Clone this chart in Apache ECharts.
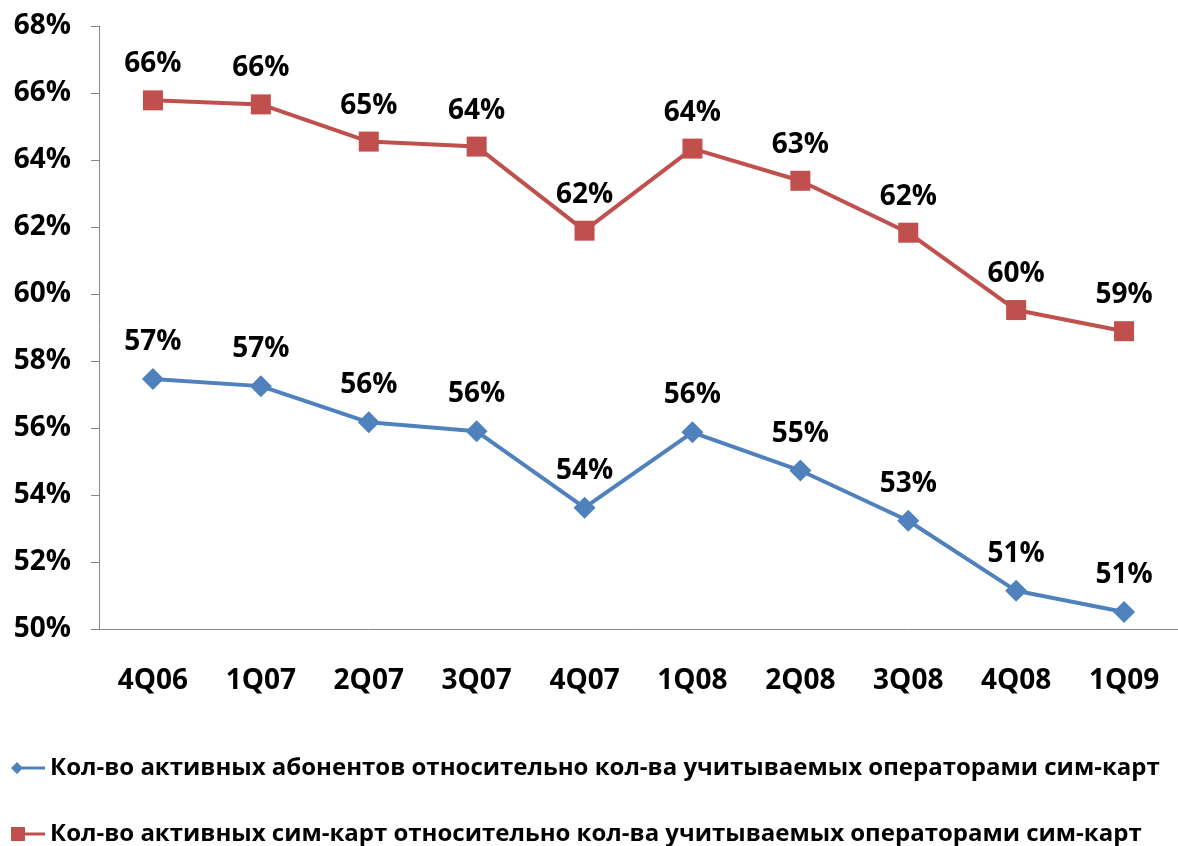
<!DOCTYPE html>
<html>
<head>
<meta charset="utf-8">
<script src="https://cdn.jsdelivr.net/npm/echarts@6/dist/echarts.min.js"></script>
<style>
  html, body { margin: 0; padding: 0; background: #fff; }
</style>
</head>
<body>
<div id="chart" style="width: 1178px; height: 846px"></div>
<script>
// категории (кварталы)
const quarters = ['4Q06', '1Q07', '2Q07', '3Q07', '4Q07', '1Q08', '2Q08', '3Q08', '4Q08', '1Q09']
// доля активных абонентов, %
const subscribersShare = [57.46, 57.25, 56.17, 55.9, 53.62, 55.87, 54.73, 53.23, 51.14, 50.51]
// доля активных сим-карт, %
const simShare = [65.78, 65.66, 64.55, 64.4, 61.89, 64.34, 63.38, 61.83, 59.52, 58.89]

const seriesNames = [
  'Кол-во активных абонентов относительно кол-ва учитываемых операторами сим-карт',
  'Кол-во активных сим-карт относительно кол-ва учитываемых операторами сим-карт'
]

const font = '"Open Sans", sans-serif'
const chart = echarts.init(document.getElementById('chart'))

const labelStyle = {
  show: true,
  position: 'top',
  distance: 12,
  fontFamily: font,
  fontWeight: 'bold',
  fontSize: 28,
  color: '#000',
  formatter: p => Math.round(p.value) + '%'
}

// значки легенды как в Excel: маркер слева, линия вправо
const diamondIcon = 'path://M0,6 L6,0 L12,6 L6,12 Z M9,4.5 L34,4.5 L34,7.5 L9,7.5 Z'
const squareIcon = 'path://M0,0 L14,0 L14,14 L0,14 Z M12,5.5 L34,5.5 L34,8.5 L12,8.5 Z'

// по одной легенде на строку
const legendRow = (name, icon, h, top) => ({
  left: 11,
  top: top,
  padding: 0,
  itemWidth: 34,
  itemHeight: h,
  data: [{ name: name, icon: icon }],
  textStyle: { fontFamily: font, fontWeight: 'bold', fontSize: 24, color: '#000' }
})

chart.setOption({
  animation: false,
  grid: { left: 99, right: -19, top: 26, bottom: 217 },
  legend: [
    legendRow(seriesNames[0], diamondIcon, 12, 756),
    legendRow(seriesNames[1], squareIcon, 14, 822)
  ],
  xAxis: {
    type: 'category',
    data: quarters,
    boundaryGap: true,
    axisLine: { lineStyle: { color: '#868686', width: 1 } },
    axisTick: { length: 9, lineStyle: { color: '#868686' } },
    axisLabel: { margin: 38, fontFamily: font, fontWeight: 'bold', fontSize: 28, color: '#000' }
  },
  yAxis: {
    type: 'value',
    min: 50,
    max: 68,
    interval: 2,
    splitLine: { show: false },
    axisLine: { show: true, lineStyle: { color: '#868686', width: 1 } },
    axisTick: { show: true, length: 8, lineStyle: { color: '#868686' } },
    axisLabel: { margin: 28, formatter: '{value}%', fontFamily: font, fontWeight: 'bold', fontSize: 28, color: '#000' }
  },
  series: [
    {
      name: seriesNames[0],
      type: 'line',
      data: subscribersShare,
      symbol: 'diamond',
      symbolSize: 22,
      lineStyle: { color: '#4F81BD', width: 4 },
      itemStyle: { color: '#4F81BD' },
      label: labelStyle
    },
    {
      name: seriesNames[1],
      type: 'line',
      data: simShare,
      symbol: 'rect',
      symbolSize: 20,
      lineStyle: { color: '#C0504D', width: 4 },
      itemStyle: { color: '#C0504D' },
      label: labelStyle
    }
  ]
})
</script>
</body>
</html>
